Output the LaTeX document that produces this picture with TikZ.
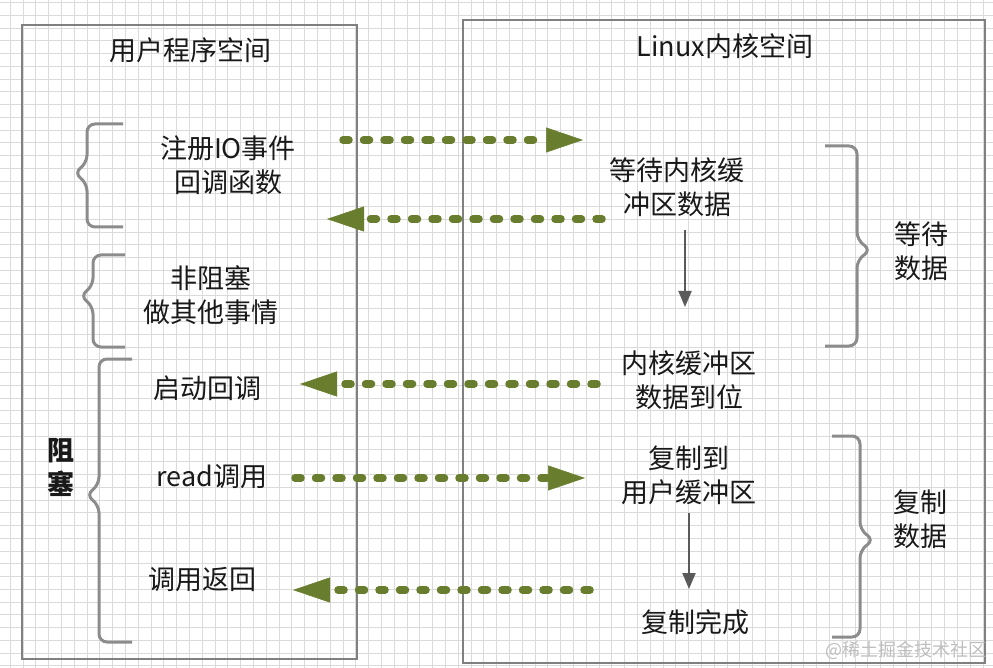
\documentclass[tikz,border=0pt]{standalone}
\usepackage{fontspec}
\setmainfont{Noto Sans CJK SC}
\usetikzlibrary{arrows.meta}
\definecolor{boxgray}{RGB}{128,128,128}
\definecolor{bracegray}{RGB}{140,140,140}
\definecolor{arrowgreen}{RGB}{104,126,46}
\definecolor{gridgray}{RGB}{218,218,218}
\definecolor{downgray}{RGB}{90,90,90}
\definecolor{marktext}{RGB}{190,190,190}
\tikzset{
  lbl/.style={align=center, font=\fontsize{27}{34}\selectfont, inner sep=0pt, text=black!90},
  boxline/.style={draw=boxgray, line width=2.5pt},
  bracestyle/.style={draw=bracegray, line width=3pt, rounded corners=8pt},
  flowarrow/.style={draw=arrowgreen, line width=7.5pt, line cap=round, dash pattern=on 6pt off 14.5pt,
    -{Triangle[length=37pt,width=25pt,line width=0.5pt,fill=arrowgreen]}},
  downarrow/.style={draw=downgray, line width=2pt, -{Triangle[length=16pt,width=13pt]}}
}
\begin{document}
\begin{tikzpicture}[x=1pt,y=-1pt]
\useasboundingbox (0,0) rectangle (993,668);
\fill[white] (0,0) rectangle (993,668);
% grid
\foreach \i in {0,...,77} \draw[gridgray, line width=1pt] ({10.3+12.8*\i},0) -- ({10.3+12.8*\i},668);
\foreach \j in {0,...,52} \draw[gridgray, line width=1pt] (0,{2.75+12.75*\j}) -- (993,{2.75+12.75*\j});
% boxes
\draw[boxline] (22,25) rectangle (357,659);
\draw[boxline] (463,20) rectangle (985,663);
% titles
\node[lbl] (utitle) at (190,50) {用户程序空间};
\node[lbl] (ktitle) at (725,46) {Linux内核空间};
% left texts
\node[lbl] (reg) at (228,165) {注册IO事件\\回调函数};
\node[lbl] (nonblock) at (211,295) {非阻塞\\做其他事情};
\node[lbl] (startcb) at (207,388) {启动回调};
\node[lbl] (readcall) at (212,477) {read调用};
\node[lbl] (callret) at (202,580) {调用返回};
\node[lbl, font=\fontsize{27}{34}\selectfont\bfseries] (block) at (61,467) {阻\\塞};
% right texts
\node[lbl] (waitk) at (677,187) {等待内核缓\\冲区数据};
\node[lbl] (ready) at (689,380) {内核缓冲区\\数据到位};
\node[lbl] (copyto) at (689,475) {复制到\\用户缓冲区};
\node[lbl] (copydone) at (695,622) {复制完成};
\node[lbl] (waitdata) at (921,251) {等待\\数据};
\node[lbl] (copydata) at (920,519) {复制\\数据};
% braces
\draw[bracestyle] (123,124) -- (87,124) -- (87,163) -- (74,173) -- (87,183) -- (87,227) -- (123,227);
\draw[bracestyle] (125,255) -- (93,255) -- (93,286) -- (80,296) -- (93,306) -- (93,347) -- (125,347);
\draw[bracestyle] (132,359) -- (99,359) -- (99,485) -- (86,495) -- (99,505) -- (99,642) -- (132,642);
\draw[bracestyle] (825,146) -- (857,146) -- (857,240) -- (871,250) -- (857,260) -- (857,346) -- (825,346);
\draw[bracestyle] (832,436) -- (860,436) -- (860,530) -- (874,540) -- (860,550) -- (860,637) -- (832,637);
% green dashed arrows
\coordinate (a1s) at (343,140); \coordinate (a1e) at (583,140);
\coordinate (a2s) at (602,219); \coordinate (a2e) at (327,219);
\coordinate (a3s) at (597,384); \coordinate (a3e) at (300,384);
\coordinate (a4s) at (295,478); \coordinate (a4e) at (585,478);
\coordinate (a5s) at (590,590); \coordinate (a5e) at (293,590);
\draw[flowarrow] (a1s) -- (a1e);
\draw[flowarrow] (a2s) -- (a2e);
\draw[flowarrow] (a3s) -- (a3e);
\draw[flowarrow] (a4s) -- (a4e);
\draw[flowarrow] (a5s) -- (a5e);
% gray down arrows
\coordinate (d1s) at (685,230); \coordinate (d1e) at (685,307);
\coordinate (d2s) at (689,513); \coordinate (d2e) at (689,589);
\draw[downarrow] (d1s) -- (d1e);
\draw[downarrow] (d2s) -- (d2e);
% watermark
\node[font=\fontsize{18}{20}\selectfont, text=marktext, inner sep=0pt] (mark) at (906,650) {@稀土掘金技术社区};
\end{tikzpicture}
\end{document}
